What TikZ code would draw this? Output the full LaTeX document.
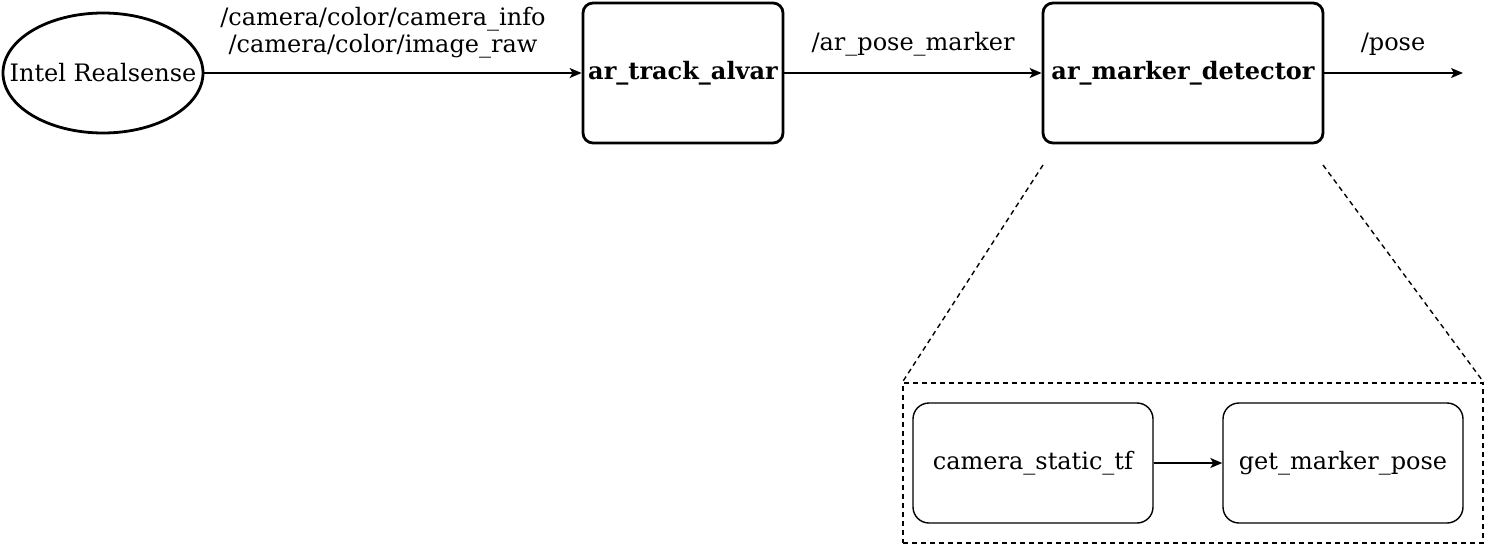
\documentclass[tikz,border=0pt]{standalone}
\usepackage{fontspec}
\setmainfont{DejaVu Serif}
\usetikzlibrary{arrows.meta,shapes.geometric}
\begin{document}
\begin{tikzpicture}[x=1pt,y=-1pt,
  every node/.style={font=\fontsize{24}{27}\selectfont, inner sep=0pt},
  bignode/.style={draw, line width=2.8pt, rounded corners=10pt, minimum width=200pt, minimum height=140pt, font=\fontsize{24}{27}\selectfont\bfseries},
  smallnode/.style={draw, line width=1.4pt, rounded corners=16pt, minimum width=240pt, minimum height=120pt},
  conn/.style={line width=1.4pt, -{Stealth[length=12pt,width=10pt,inset=3pt]}},
  lbl/.style={align=center},
  guide/.style={dashed, line width=1.4pt, dash pattern=on 5pt off 4pt}
]
\useasboundingbox (0,0) rectangle (1486,544);
\node[draw, ellipse, line width=2.8pt, minimum width=200pt, minimum height=120pt, label={[font=\fontsize{24}{27}\selectfont]center:Intel Realsense}] (rs) at (103,73) {};
\node[bignode] (track) at (683,73) {ar\_track\_alvar};
\node[bignode, minimum width=280pt] (det) at (1183,73) {ar\_marker\_detector};
\coordinate (poseend) at (1463,73);
\draw[conn] (rs) -- (track);
\draw[conn] (track) -- (det);
\draw[conn] (det) -- (poseend);
\node[lbl] (l1) at (383,33) {/camera/color/camera\_info\\/camera/color/image\_raw};
\node (l2) at (913,44) {/ar\_pose\_marker};
\node (l3) at (1393,44) {/pose};
\node[draw, guide, minimum width=580pt, minimum height=160pt] (grp) at (1193,463) {};
\coordinate (dl) at (1043,165);
\coordinate (dr) at (1323,165);
\draw[guide] (dl) -- (grp.north west);
\draw[guide] (dr) -- (grp.north east);
\node[smallnode] (cst) at (1033,463) {camera\_static\_tf};
\node[smallnode] (gmp) at (1343,463) {get\_marker\_pose};
\draw[conn] (cst) -- (gmp);
\end{tikzpicture}
\end{document}
